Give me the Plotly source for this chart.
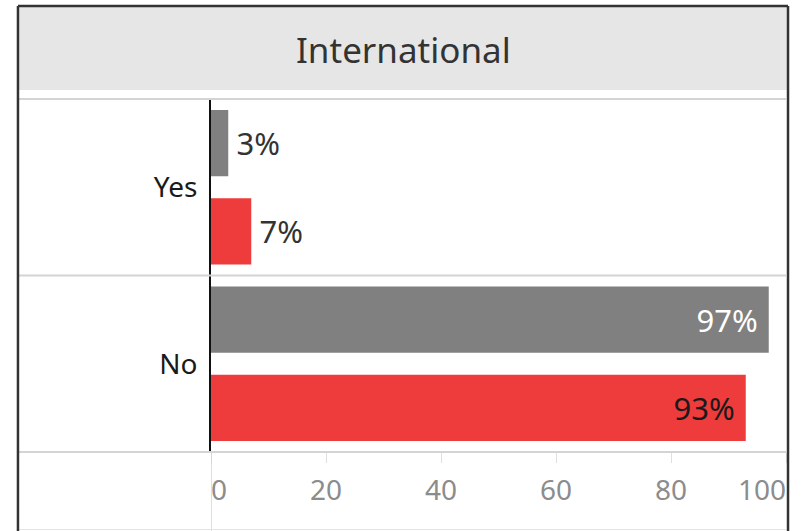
import plotly.graph_objects as go

categories = ["Yes", "No"]
series_names = ["Group A", "Group B"]
gray_values = [3, 97]
red_values = [7, 93]
tick_values = [0, 20, 40, 60, 80, 100]
tick_labels = ["0", "20", "40", "60", "80", "100"]
title_text = "International"

GRAY = "#808080"
RED = "#EE3B3B"
FONT = "Noto Sans"
NB = "\u00a0"
THIN = "\u2009"

def label_pos(vals):
    return ["inside" if v > 50 else "outside" for v in vals]

def label_txt(vals):
    return [(f"{v}%" + NB) if v > 50 else (THIN + f"{v}%") for v in vals]

fig = go.Figure()
fig.add_trace(go.Bar(
    y=categories, x=gray_values, orientation="h", name=series_names[0],
    marker=dict(color=GRAY, line=dict(width=0)),
    text=label_txt(gray_values), textposition=label_pos(gray_values),
    insidetextanchor="end",
    insidetextfont=dict(family=FONT, size=31, color="#ffffff"),
    outsidetextfont=dict(family=FONT, size=31, color="#333333"),
    cliponaxis=False,
))
fig.add_trace(go.Bar(
    y=categories, x=red_values, orientation="h", name=series_names[1],
    marker=dict(color=RED, line=dict(width=0)),
    text=label_txt(red_values), textposition=label_pos(red_values),
    insidetextanchor="end",
    insidetextfont=dict(family=FONT, size=31, color="#1a1a1a"),
    outsidetextfont=dict(family=FONT, size=31, color="#333333"),
    cliponaxis=False,
))
# empty helper traces so the edge-label axes are drawn
for ax in ("x2", "x3"):
    fig.add_trace(go.Scatter(x=[], y=[], xaxis=ax, yaxis="y", mode="markers",
                             showlegend=False, hoverinfo="skip"))

# middle tick labels centred; the first and last kept inside the panel
mid_text = ["" if i in (0, len(tick_labels) - 1) else t for i, t in enumerate(tick_labels)]

LINE = "#d4d4d4"
X_LEFT = -0.334
shapes = [
    dict(type="rect", xref="paper", yref="paper", x0=X_LEFT, x1=1.0017, y0=1.0255, y1=1.2606,
         fillcolor="#e6e6e6", line=dict(width=0), layer="below"),
    dict(type="line", xref="paper", yref="paper", x0=X_LEFT, x1=1.0, y0=1.0, y1=1.0,
         line=dict(color=LINE, width=2)),
    dict(type="line", xref="paper", yref="y", x0=X_LEFT, x1=1.0, y0=0.5, y1=0.5,
         line=dict(color=LINE, width=2)),
    dict(type="line", xref="paper", yref="paper", x0=X_LEFT, x1=1.0, y0=0, y1=0,
         line=dict(color=LINE, width=2)),
    dict(type="line", xref="x", yref="paper", x0=0, x1=0, y0=0, y1=-0.23,
         line=dict(color=LINE, width=1.5)),
    dict(type="line", xref="paper", yref="paper", x0=X_LEFT, x1=1.0, y0=-0.2195, y1=-0.2195,
         line=dict(color="#e4e4e4", width=1)),
    dict(type="line", xref="paper", yref="paper", x0=-0.3357, x1=-0.3357, y0=-0.3, y1=1.2635,
         line=dict(color="#333333", width=2.5)),
    dict(type="line", xref="paper", yref="paper", x0=1.0035, x1=1.0035, y0=-0.3, y1=1.2635,
         line=dict(color="#333333", width=2.5)),
    dict(type="line", xref="paper", yref="paper", x0=-0.3357, x1=1.0035, y0=1.2635, y1=1.2635,
         line=dict(color="#333333", width=2.5)),
]

tickfont = dict(family=FONT, size=28, color="#8c8c8c")
edge_axis = dict(range=[0, 100], overlaying="x", anchor="y", side="bottom",
                 showgrid=False, zeroline=False, showline=False, automargin=False,
                 ticks="", ticklabelstandoff=19, ticklabeloverflow="allow",
                 tickfont=tickfont)

fig.update_layout(
    width=802, height=531,
    margin=dict(l=211, r=16, t=99, b=79),
    paper_bgcolor="white", plot_bgcolor="white",
    barmode="group", bargap=0.0, bargroupgap=0.25,
    showlegend=False,
    shapes=shapes,
    annotations=[dict(text=title_text, xref="paper", yref="paper", x=0.3348, y=1.139,
                      xanchor="center", yanchor="middle", showarrow=False,
                      font=dict(family=FONT, size=35, color="#333333"))],
    xaxis=dict(range=[0, 100], tickvals=tick_values, ticktext=mid_text,
               showgrid=False, zeroline=False, showline=False, automargin=False,
               ticks="outside", ticklen=10, tickcolor="#e0e0e0", tickwidth=1,
               ticklabelstandoff=3, ticklabeloverflow="allow",
               tickfont=tickfont),
    xaxis2=dict(edge_axis, tickvals=tick_values[:1], ticktext=tick_labels[:1],
                ticklabelposition="outside right"),
    xaxis3=dict(edge_axis, tickvals=tick_values[-1:], ticktext=tick_labels[-1:],
                ticklabelposition="outside left"),
    yaxis=dict(type="category", categoryorder="array", categoryarray=categories,
               range=[1.5, -0.5], showgrid=False, zeroline=False, automargin=False,
               showline=True, linecolor="#111111", linewidth=2,
               ticks="", ticklabelstandoff=6,
               tickfont=dict(family=FONT, size=28, color="#1a1a1a")),
)

fig.write_html(
    "out.html",
    config={"displayModeBar": False},
    post_script="document.body.style.margin='0';document.body.style.overflow='hidden';",
)
